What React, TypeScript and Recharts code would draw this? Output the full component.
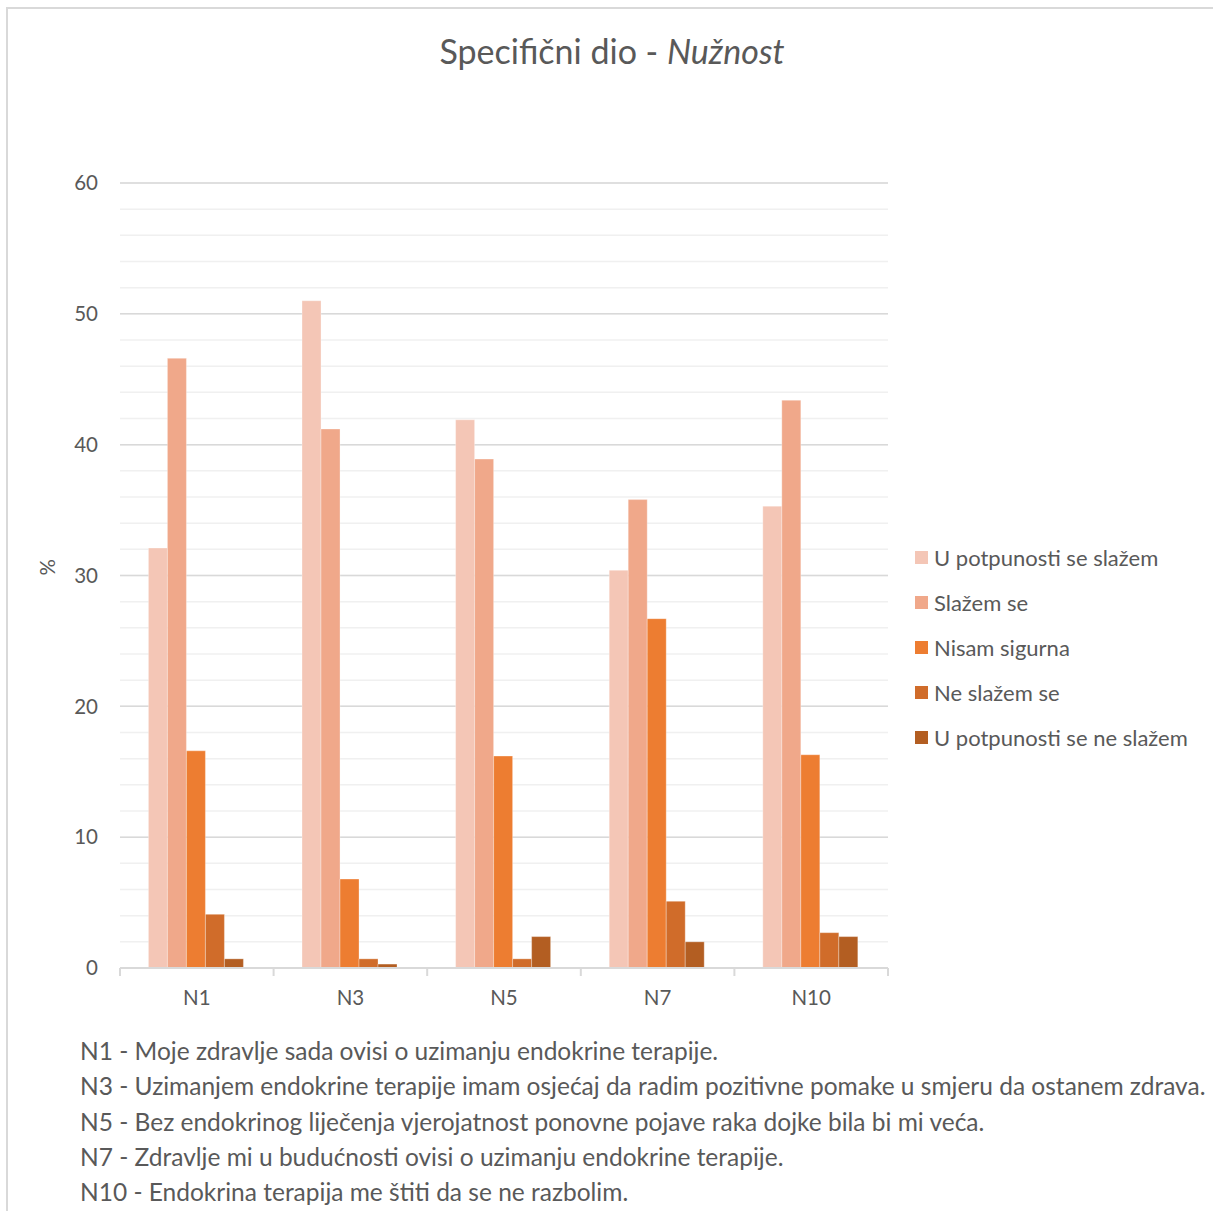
import { Bar, BarChart, CartesianGrid, XAxis, YAxis } from "recharts";

const categories = ["N1", "N3", "N5", "N7", "N10"];
const fullyAgree = [32.1, 51.0, 41.9, 30.4, 35.3];
const agree = [46.6, 41.2, 38.9, 35.8, 43.4];
const notSure = [16.6, 6.8, 16.2, 26.7, 16.3];
const disagree = [4.1, 0.7, 0.7, 5.1, 2.7];
const fullyDisagree = [0.7, 0.3, 2.4, 2.0, 2.4];

const majorTicks = [0, 10, 20, 30, 40, 50, 60];
const minorTicks = [0, 2, 4, 6, 8, 10, 12, 14, 16, 18, 20, 22, 24, 26, 28, 30, 32, 34, 36, 38, 40, 42, 44, 46, 48, 50, 52, 54, 56, 58, 60];

const seriesNames = [
  "U potpunosti se slažem",
  "Slažem se",
  "Nisam sigurna",
  "Ne slažem se",
  "U potpunosti se ne slažem"
];
const seriesColors = ["#f4c6b6", "#f0a88a", "#ed7d31", "#d06c2a", "#b35e22"];

const footnotes = [
  "N1 - Moje zdravlje sada ovisi o uzimanju endokrine terapije.",
  "N3 - Uzimanjem endokrine terapije imam osjećaj da radim pozitivne pomake u smjeru da ostanem zdrava.",
  "N5 - Bez endokrinog liječenja vjerojatnost ponovne pojave raka dojke bila bi mi veća.",
  "N7 - Zdravlje mi u budućnosti ovisi o uzimanju endokrine terapije.",
  "N10 - Endokrina terapija me štiti da se ne razbolim."
];

const data = categories.map((name, i) => ({
  name,
  s0: fullyAgree[i],
  s1: agree[i],
  s2: notSure[i],
  s3: disagree[i],
  s4: fullyDisagree[i]
}));

const FONT = "Lato, 'Open Sans', sans-serif";
const TEXT = "#595959";
const CHART_W = 1213;
const PLOT_LEFT = 120;
const PLOT_RIGHT = 888;
const BAND = (PLOT_RIGHT - PLOT_LEFT) / categories.length;

function CategoryTick(props: any) {
  const { x, y, payload, index } = props;
  const last = index === categories.length - 1;
  return (
    <g>
      <line x1={x - BAND / 2} x2={x - BAND / 2} y1={y} y2={y + 8} stroke="#d9d9d9" strokeWidth={2} />
      {last && <line x1={x + BAND / 2} x2={x + BAND / 2} y1={y} y2={y + 8} stroke="#d9d9d9" strokeWidth={2} />}
      <text x={x} y={y + 37} textAnchor="middle" fill={TEXT} fontSize={20.5} fontFamily={FONT}>
        {payload.value}
      </text>
    </g>
  );
}

export default function App() {
  return (
    <div style={{ position: "absolute", left: 0, top: 0, width: 1213, height: 1211, overflow: "hidden", background: "#fff" }}>
      <div
        style={{
          position: "absolute",
          left: 6,
          top: 7,
          width: 1260,
          height: 1260,
          border: "2px solid #d9d9d9"
        }}
      />
      <div
        style={{
          position: "absolute",
          left: 0,
          top: 30,
          width: 1224,
          textAlign: "center",
          fontFamily: FONT,
          fontSize: 34,
          color: TEXT
        }}
      >
        Specifični dio - <i>Nužnost</i>
      </div>
      <div style={{ position: "absolute", left: 0, top: 0 }}>
        <BarChart
          width={CHART_W}
          height={1030}
          data={data}
          margin={{ top: 183, right: CHART_W - PLOT_RIGHT, bottom: 22, left: 0 }}
          barCategoryGap="18.5%"
          barGap={0}
        >
          <CartesianGrid yAxisId="major" vertical={false} horizontalValues={minorTicks} stroke="#f0f0f0" strokeWidth={1.5} />
          <CartesianGrid yAxisId="major" vertical={false} stroke="#d9d9d9" strokeWidth={1.5} />
          <XAxis
            dataKey="name"
            height={40}
            axisLine={{ stroke: "#d9d9d9", strokeWidth: 2 }}
            tickLine={false}
            tickSize={0}
            tickMargin={0}
            tick={<CategoryTick />}
            interval={0}
          />
          <YAxis
            yAxisId="major"
            domain={[0, 60]}
            ticks={majorTicks}
            width={PLOT_LEFT}
            axisLine={false}
            tickLine={false}
            tickSize={0}
            tickMargin={22}
            tick={{ fill: TEXT, fontSize: 20.5, fontFamily: FONT }}
            label={{
              value: "%",
              angle: -90,
              position: "insideLeft",
              offset: 48,
              fill: TEXT,
              fontSize: 20.5,
              fontFamily: FONT
            }}
          />
          {seriesNames.map((name, i) => (
            <Bar
              key={name}
              yAxisId="major"
              dataKey={"s" + i}
              name={name}
              fill={seriesColors[i]}
              stroke="#ffffff"
              strokeOpacity={0.3}
              isAnimationActive={false}
            />
          ))}
        </BarChart>
      </div>
      <div style={{ position: "absolute", left: 915, top: 535, fontFamily: FONT }}>
        {seriesNames.map((name, i) => (
          <div key={name} style={{ display: "flex", alignItems: "center", height: 45 }}>
            <span style={{ width: 13, height: 13, background: seriesColors[i], marginRight: 6 }} />
            <span style={{ fontSize: 22, color: TEXT }}>{name}</span>
          </div>
        ))}
      </div>
      <div
        style={{
          position: "absolute",
          left: 80,
          top: 1033,
          fontFamily: FONT,
          fontSize: 24.5,
          lineHeight: "35.3px",
          color: TEXT,
          whiteSpace: "nowrap"
        }}
      >
        {footnotes.map((line) => (
          <div key={line}>{line}</div>
        ))}
      </div>
    </div>
  );
}
